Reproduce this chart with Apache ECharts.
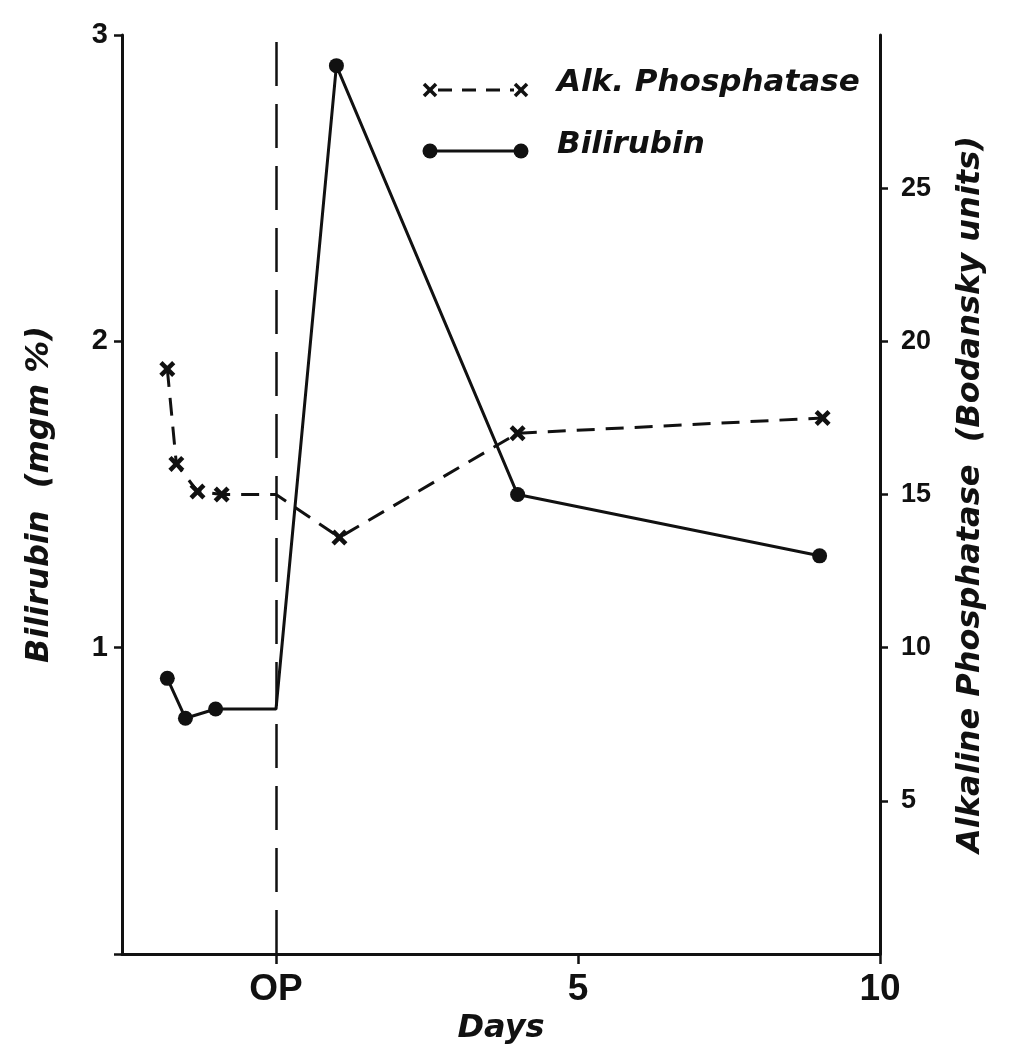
<!DOCTYPE html>
<html><head><meta charset="utf-8">
<script src="https://cdn.jsdelivr.net/npm/echarts@6/dist/echarts.min.js"></script>
<style>html,body{margin:0;padding:0;background:#fff}#c{width:1011px;height:1050px}</style>
</head><body><div id="c"></div>
<script>
// Data
const biliDays   = [-1.8, -1.5, -1.0, 0, 1, 4, 9];
const biliValues = [0.9, 0.77, 0.8, 0.8, 2.9, 1.5, 1.3];
const biliMarked = [true, true, true, false, true, true, true];
const alkDays    = [-1.8, -1.65, -1.3, -0.9, 0, 1.05, 4, 9.05];
const alkValues  = [19.1, 16.0, 15.1, 15.0, 15.0, 13.6, 17.0, 17.5];
const alkMarked  = [true, true, true, true, false, true, true, true];
const xTicks = [0, 5, 10];
const xTickLabels = ['OP', '5', '10'];
const leftTicks = [1, 2, 3];
const rightTicks = [5, 10, 15, 20, 25];

const FONT = '"Liberation Sans",Arial,sans-serif';
const TFONT = '"DejaVu Sans","Liberation Sans",sans-serif';
const INK = '#111';
const crossSym = 'path://M0,2L2,0L5,3L8,0L10,2L7,5L10,8L8,10L5,7L2,10L0,8L3,5Z';

const chart = echarts.init(document.getElementById('c'), null, {renderer: 'canvas'});
const biliData = biliDays.map((d, i) => ({value: [d, biliValues[i]], symbol: biliMarked[i] ? 'circle' : 'none'}));
const alkData = alkDays.map((d, i) => ({value: [d, alkValues[i]], symbol: alkMarked[i] ? crossSym : 'none'}));

function crossLines(cx, cy, s) {
  return [
    {type: 'line', shape: {x1: cx - s, y1: cy - s, x2: cx + s, y2: cy + s}, style: {stroke: INK, lineWidth: 3.5}},
    {type: 'line', shape: {x1: cx - s, y1: cy + s, x2: cx + s, y2: cy - s}, style: {stroke: INK, lineWidth: 3.5}}
  ];
}

const tickLabelStyle = {color: INK, fontFamily: FONT, fontWeight: 'bold'};
const titleStyle = {color: INK, fontFamily: TFONT, fontWeight: 'bold', fontStyle: 'italic', fontSize: 32};
chart.setOption({
  backgroundColor: '#fff',
  animation: false,
  grid: {left: 122, right: 131, top: 35, bottom: 95},
  xAxis: {
    type: 'value', min: -2.55, max: 10,
    name: 'Days', nameLocation: 'middle', nameGap: 54,
    nameTextStyle: titleStyle,
    axisLine: {show: true, onZero: false, lineStyle: {color: INK, width: 3}},
    axisTick: {show: true, customValues: xTicks, length: 10, lineStyle: {color: INK, width: 2.5}},
    axisLabel: {customValues: xTicks, margin: 17, fontSize: 37, ...tickLabelStyle,
      formatter: v => xTickLabels[xTicks.indexOf(v)]},
    splitLine: {show: false}
  },
  yAxis: [{
    type: 'value', min: 0, max: 3, position: 'left',
    name: 'Bilirubin  (mgm %)', nameLocation: 'middle', nameGap: 66, nameRotate: 90,
    nameTextStyle: titleStyle,
    axisLine: {show: true, onZero: false, lineStyle: {color: INK, width: 3}},
    axisTick: {show: true, customValues: [0, 1, 2, 3], length: 8, lineStyle: {color: INK, width: 2.5}},
    axisLabel: {customValues: leftTicks, margin: 14, fontSize: 29, ...tickLabelStyle},
    splitLine: {show: false}
  }, {
    type: 'value', min: 0, max: 30, position: 'right',
    name: 'Alkaline Phosphatase  (Bodansky units)', nameLocation: 'middle', nameGap: 75, nameRotate: 90,
    nameTextStyle: titleStyle,
    axisLine: {show: true, onZero: false, lineStyle: {color: INK, width: 3}},
    axisTick: {show: true, customValues: rightTicks, length: 8, lineStyle: {color: INK, width: 2.5}},
    axisLabel: {customValues: rightTicks, margin: 21, fontSize: 27, ...tickLabelStyle},
    splitLine: {show: false}
  }],
  series: [{
    name: 'Bilirubin', type: 'line', yAxisIndex: 0, data: biliData,
    symbolSize: 15, itemStyle: {color: INK},
    lineStyle: {color: INK, width: 3},
    markLine: {
      silent: true, symbol: ['none', 'none'], label: {show: false},
      lineStyle: {color: INK, width: 2.5, type: [44, 18]},
      data: [{xAxis: 0}]
    }
  }, {
    name: 'Alk. Phosphatase', type: 'line', yAxisIndex: 1, data: alkData,
    symbolSize: 16, itemStyle: {color: INK},
    lineStyle: {color: INK, width: 3, type: [18, 11]}
  }],
  graphic: [
    {type: 'line', shape: {x1: 438, y1: 90, x2: 514, y2: 90}, style: {stroke: INK, lineWidth: 3, lineDash: [14, 10]}},
    ...crossLines(430, 90, 6),
    ...crossLines(521, 90, 6),
    {type: 'text', x: 557, y: 83, style: {text: 'Alk. Phosphatase', fill: INK, font: 'italic bold 31px ' + TFONT, verticalAlign: 'middle'}},
    {type: 'line', shape: {x1: 430, y1: 151, x2: 521, y2: 151}, style: {stroke: INK, lineWidth: 3}},
    {type: 'circle', shape: {cx: 430, cy: 151, r: 7.5}, style: {fill: INK}},
    {type: 'circle', shape: {cx: 521, cy: 151, r: 7.5}, style: {fill: INK}},
    {type: 'text', x: 557, y: 145, style: {text: 'Bilirubin', fill: INK, font: 'italic bold 31px ' + TFONT, verticalAlign: 'middle'}}
  ]
});
</script></body></html>
